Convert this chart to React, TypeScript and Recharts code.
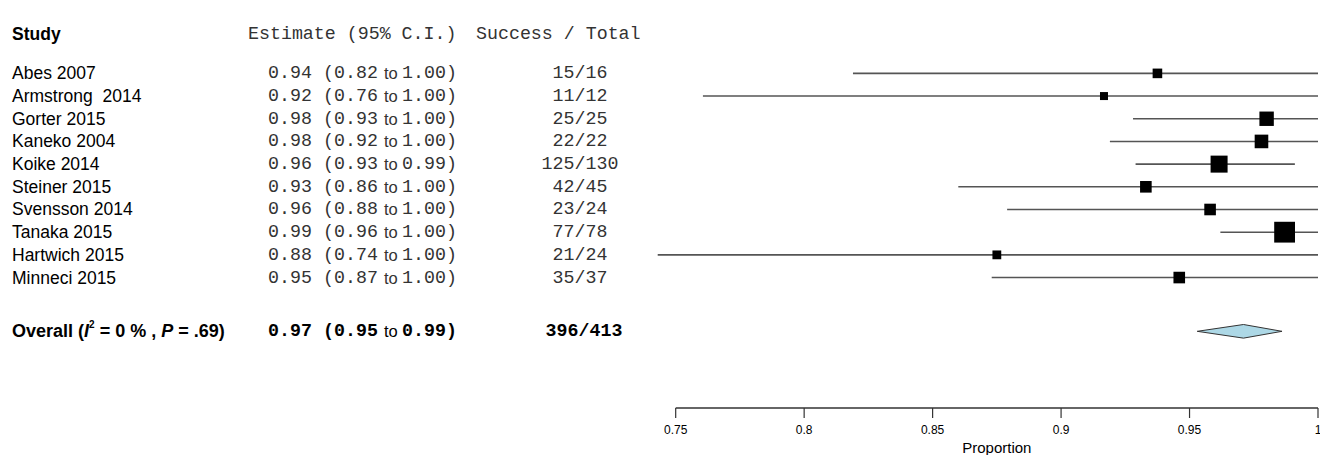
import { ScatterChart, Scatter, XAxis, YAxis, ErrorBar, ReferenceLine } from "recharts";

// study rows
const studies = [
	"Abes 2007",
	"Armstrong  2014",
	"Gorter 2015",
	"Kaneko 2004",
	"Koike 2014",
	"Steiner 2015",
	"Svensson 2014",
	"Tanaka 2015",
	"Hartwich 2015",
	"Minneci 2015",
];
const estimates = [0.9375, 0.9167, 0.98, 0.978, 0.9615, 0.933, 0.958, 0.987, 0.875, 0.946];
const lowerCI = [0.819, 0.7606, 0.928, 0.919, 0.929, 0.86, 0.879, 0.962, 0.743, 0.873];
const upperCI = [1, 1, 1, 1, 0.991, 1, 1, 1, 1, 1];
const weights = [0.48, 0.4, 0.72, 0.68, 0.85, 0.58, 0.58, 1.04, 0.44, 0.58];

const estimateLabels = ["0.94", "0.92", "0.98", "0.98", "0.96", "0.93", "0.96", "0.99", "0.88", "0.95"];
const lowerLabels = ["0.82", "0.76", "0.93", "0.92", "0.93", "0.86", "0.88", "0.96", "0.74", "0.87"];
const upperLabels = ["1.00", "1.00", "1.00", "1.00", "0.99", "1.00", "1.00", "1.00", "1.00", "1.00"];
const successTotal = ["15/16", "11/12", "25/25", "22/22", "125/130", "42/45", "23/24", "77/78", "21/24", "35/37"];

// pooled
const overallEstimate = 0.971;
const overallLower = 0.953;
const overallUpper = 0.986;
const overallLabels = ["0.97", "0.95", "0.99", "396/413"];

const xTicks = [0.75, 0.8, 0.85, 0.9, 0.95, 1];
const xMin = 0.74;
const xMax = 1;

// row positions on the y scale
const headerRow = -1.72;
const overallRow = 11.37;
const axisRow = 14.75;
const studyRows = studies.map((_, i) => i);

const SANS = "'Liberation Sans', Arial, sans-serif";
const MONO = "'Liberation Mono', 'Courier New', monospace";
const TEXT_SIZE = 17.5;
const MONO_SIZE = 18.3;
const TO_SIZE = 16.5;
const MONO_FILL = "#333";

// table column x positions
const COL_STUDY = 12;
const COL_EST = 268;
const COL_LO = 323;
const COL_TO = 384;
const COL_HI = 402;
const COL_FRAC = 580;

const studyData = studies.map((name, i) => ({
	name,
	x: estimates[i],
	y: studyRows[i],
	err: [estimates[i] - lowerCI[i], upperCI[i] - estimates[i]],
	w: weights[i],
}));

const diamondData = [
	{ x: overallLower, y: overallRow },
	{ x: overallEstimate, y: overallRow - 0.3 },
	{ x: overallUpper, y: overallRow },
	{ x: overallEstimate, y: overallRow + 0.3 },
	{ x: overallLower, y: overallRow },
];

const Square = (props: any) => {
	const s = props.payload.w * 20;
	return <rect x={props.cx - s / 2} y={props.cy - s / 2} width={s} height={s} fill="#000" />;
};

const CiText = ({ y, est, lo, hi, bold }: any) => {
	const w = bold ? "bold" : "normal";
	const fill = bold ? "#000" : MONO_FILL;
	const common = { y, dominantBaseline: "central" as const, fill };
	return (
		<g>
			<text x={COL_EST} {...common} fontFamily={MONO} fontSize={MONO_SIZE} fontWeight={w}>
				{est}
			</text>
			<text x={COL_LO} {...common} fontFamily={MONO} fontSize={MONO_SIZE} fontWeight={w}>
				({lo}
			</text>
			<text x={COL_TO} {...common} fontFamily={SANS} fontSize={TO_SIZE}>
				to
			</text>
			<text x={COL_HI} {...common} fontFamily={MONO} fontSize={MONO_SIZE} fontWeight={w}>
				{hi})
			</text>
		</g>
	);
};

const RowTick = (props: any) => {
	const { y, payload } = props;
	const v = payload.value;
	const base = { dominantBaseline: "central" as const, style: { whiteSpace: "pre" as const }, fill: "#000" };

	if (v === headerRow) {
		return (
			<g>
				<text x={COL_STUDY} y={y} {...base} fontFamily={SANS} fontSize={TEXT_SIZE} fontWeight="bold">
					Study
				</text>
				<text x={248} y={y} {...base} fontFamily={MONO} fontSize={MONO_SIZE} fill={MONO_FILL}>
					Estimate (95% C.I.)
				</text>
				<text x={476} y={y} {...base} fontFamily={MONO} fontSize={MONO_SIZE} fill={MONO_FILL}>
					Success / Total
				</text>
			</g>
		);
	}

	if (v === overallRow) {
		return (
			<g>
				<text x={COL_STUDY} y={y} {...base} fontFamily={SANS} fontSize={18} fontWeight="bold">
					Overall (<tspan fontStyle="italic">I</tspan>
					<tspan fontSize={10} dy={-7}>2</tspan>
					<tspan dy={7}> = 0 % , </tspan>
					<tspan fontStyle="italic">P</tspan> = .69)
				</text>
				<CiText y={y} est={overallLabels[0]} lo={overallLabels[1]} hi={overallLabels[2]} bold />
				<text x={COL_FRAC + 4} y={y} {...base} fontFamily={MONO} fontSize={MONO_SIZE} fontWeight="bold" textAnchor="middle">
					{overallLabels[3]}
				</text>
			</g>
		);
	}

	const i = studyRows.indexOf(v);
	if (i < 0) return null;
	return (
		<g>
			<text x={COL_STUDY} y={y} {...base} fontFamily={SANS} fontSize={TEXT_SIZE}>
				{studies[i]}
			</text>
			<CiText y={y} est={estimateLabels[i]} lo={lowerLabels[i]} hi={upperLabels[i]} />
			<text x={COL_FRAC} y={y} {...base} fontFamily={MONO} fontSize={MONO_SIZE} fill={MONO_FILL} textAnchor="middle">
				{successTotal[i]}
			</text>
		</g>
	);
};

const ProportionLabel = (props: any) => {
	const vb = props.viewBox;
	const mid = (xTicks[0] + xTicks[xTicks.length - 1]) / 2;
	const cx = vb.x + (vb.width * (mid - xMin)) / (xMax - xMin);
	return (
		<text x={cx} y={vb.y + vb.height - 2} textAnchor="middle" fontFamily={SANS} fontSize={15} fill="#000">
			Proportion
		</text>
	);
};

export default function App() {
	return (
		<div style={{ position: "absolute", left: 0, top: 0, width: 1320, height: 455, background: "#fff" }}>
			<ScatterChart width={1320} height={455} margin={{ top: 28, right: 2, bottom: 0, left: 0 }}>
				<XAxis
					dataKey="x"
					type="number"
					domain={[xMin, xMax]}
					allowDataOverflow
					ticks={xTicks}
					interval={0}
					height={47}
					axisLine={false}
					tickLine={{ stroke: "#333", strokeWidth: 1.2 }}
					tickSize={10}
					tickMargin={7}
					tick={{ fontSize: 12, fill: "#000", fontFamily: SANS }}
					label={<ProportionLabel />}
				/>
				<YAxis
					dataKey="y"
					type="number"
					domain={[-2, axisRow]}
					allowDataOverflow
					reversed
					width={650}
					ticks={[headerRow, ...studyRows, overallRow]}
					interval={0}
					axisLine={false}
					tickLine={false}
					tick={<RowTick />}
				/>
				<ReferenceLine
					segment={[
						{ x: xTicks[0], y: axisRow },
						{ x: xTicks[xTicks.length - 1], y: axisRow },
					]}
					stroke="#333"
					strokeWidth={1.5}
					ifOverflow="visible"
				/>
				<Scatter data={studyData} shape={<Square />} isAnimationActive={false}>
					<ErrorBar dataKey="err" direction="x" width={0} stroke="#555" strokeWidth={1.6} />
				</Scatter>
				<Scatter
					data={diamondData}
					shape={() => <g />}
					line={{ fill: "#add8e6", stroke: "#333", strokeWidth: 1 }}
					isAnimationActive={false}
				/>
			</ScatterChart>
		</div>
	);
}
